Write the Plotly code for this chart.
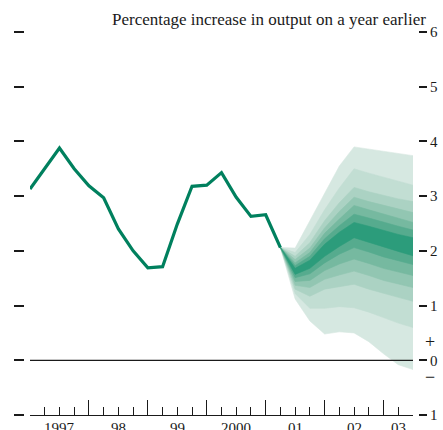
import plotly.graph_objects as go

W, H = 443, 430

# ---- data ----
# quarterly index: 0 = 1997 Q1 ... 26 = 2003 Q3 start
hist_q = list(range(0, 18))
hist_growth = [3.13, 3.50, 3.88, 3.50, 3.19, 2.97, 2.40, 2.00, 1.69, 1.71,
               2.49, 3.18, 3.20, 3.43, 2.98, 2.63, 2.66, 2.06]

fan_q = list(range(17, 27))
# upper band boundaries, outermost first -> top of central band
fan_upper = [
    [2.06, 2.05, 2.55, 3.05, 3.55, 3.90, 3.86, 3.82, 3.78, 3.74],
    [2.06, 1.97, 2.30, 2.75, 3.15, 3.50, 3.42, 3.35, 3.27, 3.20],
    [2.06, 1.90, 2.15, 2.55, 2.88, 3.16, 3.08, 3.01, 2.95, 2.90],
    [2.06, 1.84, 2.05, 2.42, 2.72, 2.98, 2.90, 2.83, 2.76, 2.70],
    [2.06, 1.78, 1.97, 2.32, 2.58, 2.83, 2.75, 2.67, 2.59, 2.52],
    [2.06, 1.73, 1.90, 2.22, 2.46, 2.67, 2.60, 2.52, 2.45, 2.38],
    [2.06, 1.68, 1.83, 2.12, 2.34, 2.52, 2.45, 2.37, 2.30, 2.24],
]
# lower band boundaries, outermost first -> bottom of central band
fan_lower = [
    [2.06, 1.12, 0.72, 0.48, 0.52, 0.50, 0.34, 0.12, -0.08, -0.17],
    [2.06, 1.22, 0.95, 0.95, 0.98, 0.96, 0.88, 0.78, 0.68, 0.60],
    [2.06, 1.30, 1.17, 1.30, 1.34, 1.39, 1.30, 1.22, 1.15, 1.08],
    [2.06, 1.37, 1.33, 1.48, 1.56, 1.63, 1.55, 1.46, 1.40, 1.33],
    [2.06, 1.44, 1.46, 1.64, 1.76, 1.85, 1.77, 1.68, 1.62, 1.55],
    [2.06, 1.51, 1.58, 1.78, 1.94, 2.06, 1.98, 1.89, 1.82, 1.75],
    [2.06, 1.57, 1.68, 1.90, 2.08, 2.24, 2.16, 2.07, 1.99, 1.91],
]
fan_colors = ["#d6e8e1", "#c2ded3", "#abd2c3", "#92c6b2", "#76b9a0", "#56ab8e", "#2c9c7b"]

year_pos = [2, 6, 10, 14, 18, 22, 25]
year_labels = ["1997", "98", "99", "2000", "01", "02", "03"]

y_ticks = [-1, 0, 1, 2, 3, 4, 5, 6]
y_ticktext = ["1", "0", "1", "2", "3", "4", "5", "6"]

title = "Percentage increase in output on a year earlier"

FONT = "Liberation Serif"
INK = "#1a1a1a"

# ---- figure ----
fig = go.Figure()

for up, lo, col in zip(fan_upper, fan_lower, fan_colors):
    fig.add_trace(go.Scatter(
        x=fan_q + fan_q[::-1], y=up + lo[::-1],
        fill="toself", fillcolor=col, mode="lines",
        line=dict(width=0.6, color=col), hoverinfo="skip", showlegend=False,
    ))

fig.add_trace(go.Scatter(
    x=hist_q, y=hist_growth, mode="lines", yaxis="y2",
    line=dict(color="#00805e", width=3.2), showlegend=False,
))

x0p, x1p = 30 / W, 413 / W
y0p, y1p = 1 - 415 / H, 1 - 32 / H

fig.update_layout(
    width=W, height=H,
    margin=dict(l=0, r=0, t=0, b=0, autoexpand=False),
    paper_bgcolor="white", plot_bgcolor="white",
    font=dict(family=FONT, color=INK, size=15),
    showlegend=False,
    xaxis=dict(
        domain=[x0p, x1p], range=[0, 26], showgrid=False, zeroline=False,
        automargin=False,
        showline=True, linecolor=INK, linewidth=1.3,
        ticks="inside", ticklen=15, tickwidth=1.3, tickcolor=INK,
        tickvals=[0, 4, 8, 12, 16, 20, 24], showticklabels=False,
        minor=dict(ticks="inside", ticklen=8, tickwidth=1.3, tickcolor=INK,
                   tickvals=list(range(0, 27))),
        fixedrange=True,
    ),
    yaxis=dict(
        domain=[y0p, y1p], range=[-1, 6], showgrid=False, zeroline=False,
        automargin=False,
        side="left", anchor="free", position=24 / W,
        ticks="outside", ticklen=10, tickwidth=1.6, tickcolor=INK,
        tickvals=y_ticks, showticklabels=False, showline=False,
    ),
    yaxis2=dict(
        domain=[y0p, y1p], range=[-1, 6], overlaying="y", showgrid=False, zeroline=False,
        automargin=False,
        side="right", anchor="free", position=418 / W,
        ticks="outside", ticklen=8, tickwidth=1.6, tickcolor=INK,
        tickvals=y_ticks, ticktext=y_ticktext, showline=False,
        tickfont=dict(family=FONT, size=15, color=INK),
    ),
)

# zero line above the fan
fig.add_shape(type="line", xref="x domain", yref="y", x0=0, x1=1, y0=0, y1=0,
              line=dict(color=INK, width=1.3), layer="above")

for xp, lab in zip(year_pos, year_labels):
    fig.add_annotation(x=xp, y=1 - 428 / H, xref="x", yref="paper", text=lab,
                       showarrow=False, xanchor="center", yanchor="middle",
                       font=dict(family=FONT, size=15, color=INK))

fig.add_annotation(x=428 / W, y=1 - 19 / H, xref="paper", yref="paper", text=title,
                   showarrow=False, xanchor="right", yanchor="middle",
                   font=dict(family=FONT, size=17, color=INK))
fig.add_annotation(x=430 / W, y=1 - 342 / H, xref="paper", yref="paper", text="+",
                   showarrow=False, xanchor="center", yanchor="middle",
                   font=dict(family=FONT, size=18, color=INK))
fig.add_annotation(x=430 / W, y=1 - 377 / H, xref="paper", yref="paper", text="\u2212",
                   showarrow=False, xanchor="center", yanchor="middle",
                   font=dict(family=FONT, size=18, color=INK))

post = (
    "document.documentElement.style.margin='0';"
    "document.body.style.margin='0';document.body.style.padding='0';"
    "document.body.style.overflow='hidden';"
)
fig.write_html("out.html", config={"displayModeBar": False}, post_script=post)
